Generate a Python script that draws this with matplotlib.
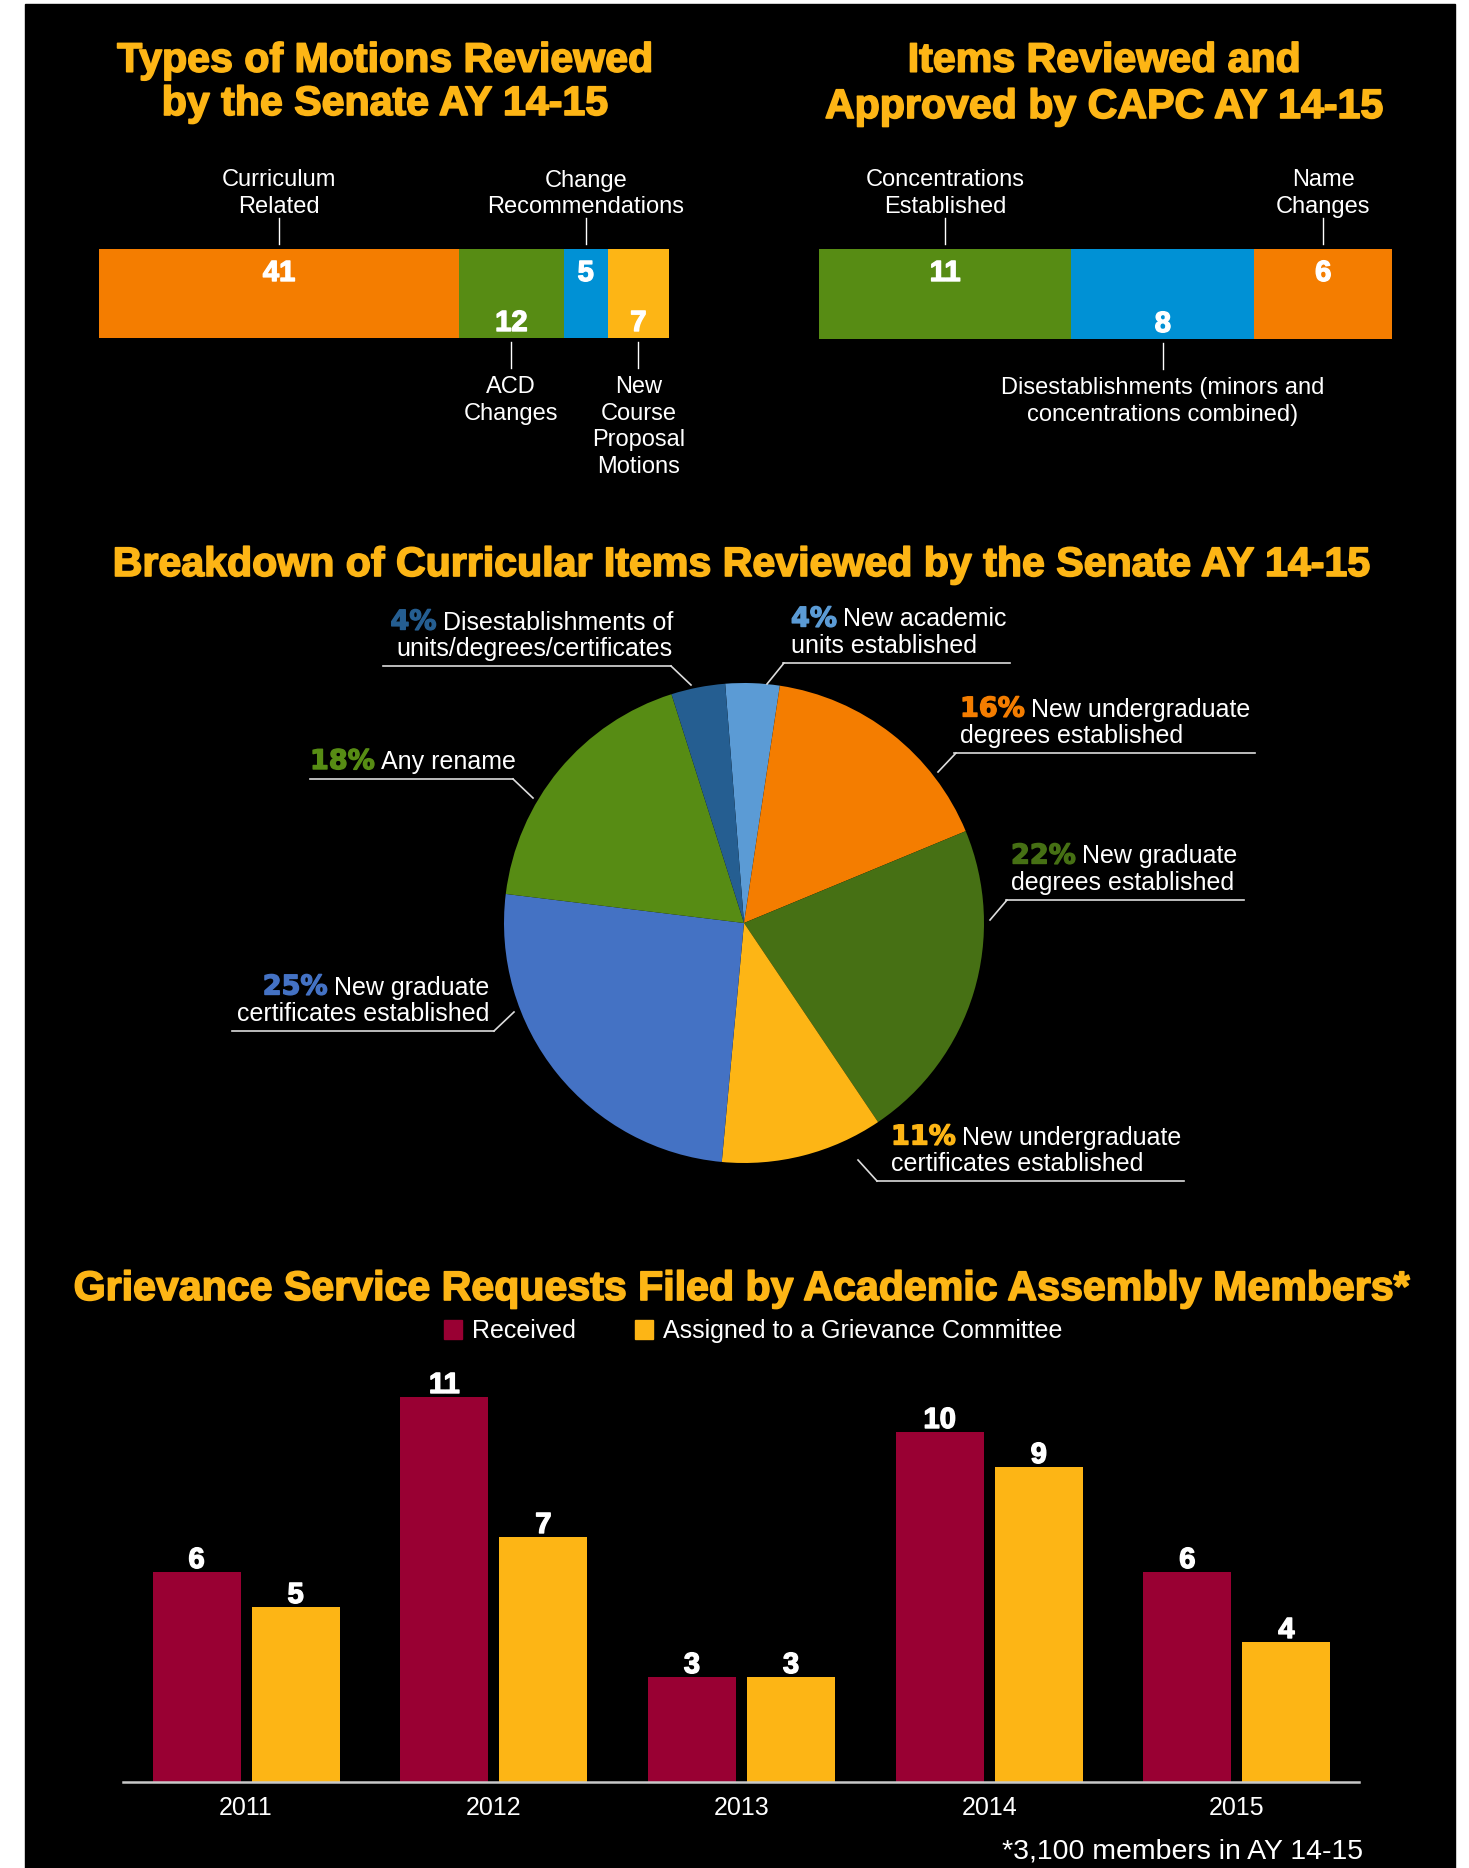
import numpy as np
import matplotlib
matplotlib.use('Agg')
import matplotlib.pyplot as plt
import matplotlib.transforms as mtransforms
import matplotlib.patheffects as pe
from matplotlib.lines import Line2D
from matplotlib.patches import Rectangle, Patch

plt.rcParams['font.family'] = ['Liberation Sans', 'DejaVu Sans']

# --- data ---
motion_vals = [41, 12, 5, 7]
motion_names = ['Curriculum\nRelated', 'ACD\nChanges', 'Change\nRecommendations',
                'New\nCourse\nProposal\nMotions']
motion_sides = ['top', 'bottom', 'top', 'bottom']
motion_colors = ['#F47D00', '#578C14', '#0091D5', '#FDB515']

capc_vals = [11, 8, 6]
capc_names = ['Concentrations\nEstablished',
              'Disestablishments (minors and\nconcentrations combined)',
              'Name\nChanges']
capc_sides = ['top', 'bottom', 'top']
capc_colors = ['#578C14', '#0091D5', '#F47D00']

pie_counts = [2, 9, 12, 6, 14, 10, 2]
pie_pcts = ['4%', '16%', '22%', '11%', '25%', '18%', '4%']
pie_names = ['New academic\nunits established',
             'New undergraduate\ndegrees established',
             'New graduate\ndegrees established',
             'New undergraduate\ncertificates established',
             'New graduate\ncertificates established',
             'Any rename',
             'Disestablishments of\nunits/degrees/certificates']
pie_colors = ['#5B9BD5', '#F47D00', '#467014', '#FDB515', '#4472C4', '#578C14', '#255E91']

years = ['2011', '2012', '2013', '2014', '2015']
received = [6, 11, 3, 10, 6]
assigned = [5, 7, 3, 9, 4]

GOLD = '#FDB515'
MAROON = '#990033'

W, H = 1469, 1868
fig = plt.figure(figsize=(W / 100, H / 100), dpi=100)
fig.patch.set_facecolor('white')
fig.add_artist(Rectangle((25 / W, 0), 1430 / W, 1864 / H, transform=fig.transFigure,
                         color='black', zorder=0))

# pixel coords, origin top-left
px = mtransforms.Affine2D().scale(1, -1).translate(0, H)

heavy_w = [pe.withStroke(linewidth=1.0, foreground='white')]
heavy_g = [pe.withStroke(linewidth=1.2, foreground=GOLD)]


def px_axes(l, t, r, b):
    return fig.add_axes([l / W, 1 - b / H, (r - l) / W, (b - t) / H])


def title(x, y, s):
    fig.text(x, y, s, transform=px, ha='center', va='baseline', color=GOLD,
             fontsize=29.6, fontweight='bold', path_effects=heavy_g)


title(385, 71.7, 'Types of Motions Reviewed')
title(385, 115, 'by the Senate AY 14-15')
title(1104, 71.7, 'Items Reviewed and')
title(1104, 118, 'Approved by CAPC AY 14-15')
title(741, 576, 'Breakdown of Curricular Items Reviewed by the Senate AY 14-15')
title(741, 1300, 'Grievance Service Requests Filed by Academic Assembly Members*')


def stacked(l, t, r, b, vals, names, sides, colors):
    ax = px_axes(l, t, r, b)
    h = b - t
    lefts = np.concatenate([[0], np.cumsum(vals)[:-1]])
    ax.barh(0, vals, left=lefts, height=1, color=colors, linewidth=0)
    ax.set_xlim(0, sum(vals))
    ax.set_ylim(-0.5, 0.5)
    ax.axis('off')
    tr = ax.get_xaxis_transform()
    for v, lf, name, side in zip(vals, lefts, names, sides):
        xc = lf + v / 2
        lines = name.split('\n')
        n = len(lines)
        if side == 'top':
            ax.annotate(str(v), (xc, 1), xycoords=tr, xytext=(0, -32), textcoords='offset pixels',
                        ha='center', va='baseline', color='white', fontsize=21,
                        fontweight='bold', path_effects=heavy_w)
            ax.plot([xc, xc], [1 + 5 / h, 1 + 31 / h], transform=tr, clip_on=False,
                    color='white', lw=1)
            for i, s in enumerate(lines):
                ax.annotate(s, (xc, 1), xycoords=tr, xytext=(0, 36 + (n - 1 - i) * 26.5),
                            textcoords='offset pixels', ha='center', va='baseline',
                            color='white', fontsize=17)
        else:
            ax.annotate(str(v), (xc, 0), xycoords=tr, xytext=(0, 7), textcoords='offset pixels',
                        ha='center', va='baseline', color='white', fontsize=21,
                        fontweight='bold', path_effects=heavy_w)
            ax.plot([xc, xc], [-4 / h, -30 / h], transform=tr, clip_on=False,
                    color='white', lw=1)
            for i, s in enumerate(lines):
                ax.annotate(s, (xc, 0), xycoords=tr, xytext=(0, -(55 + i * 26.6)),
                            textcoords='offset pixels', ha='center', va='baseline',
                            color='white', fontsize=17)


stacked(99.4, 249, 669, 338, motion_vals, motion_names, motion_sides, motion_colors)
stacked(819, 249, 1392, 339, capc_vals, capc_names, capc_sides, capc_colors)

# --- pie ---
cx, cy, rad = 744, 923, 240
axp = px_axes(cx - rad, cy - rad, cx + rad, cy + rad)
axp.pie(pie_counts, colors=pie_colors, startangle=94.5, counterclock=False,
        wedgeprops=dict(linewidth=0))
axp.set_xlim(-1, 1)
axp.set_ylim(-1, 1)
axp.axis('off')

# label layout: align, text x, underline y, underline x0, x1, leader start, leader tip
pie_layout = [
    ('left', 791, 663, 783, 1010, (784, 663), (767, 684)),
    ('left', 960, 753, 954, 1255, (956, 753), (938, 772)),
    ('left', 1011, 900, 1006, 1244, (1007, 900), (990, 920)),
    ('left', 891, 1181, 877, 1184, (877, 1181), (858, 1160)),
    ('right', 489, 1031, 232, 494, (494, 1031), (514, 1012)),
    ('left', 310, 779, 310, 513, (513, 779), (533, 798)),
    ('right', 673, 666, 383, 671, (671, 666), (691, 685)),
]

renderer = fig.canvas.get_renderer()
for pct, name, col, lay in zip(pie_pcts, pie_names, pie_colors, pie_layout):
    align, tx, uy, ux0, ux1, p0, p1 = lay
    lines = name.split('\n')
    n = len(lines)
    base0 = uy - 10 - (n - 1) * 26.5
    pct_eff = [pe.withStroke(linewidth=1.0, foreground=col)]
    for i, s in enumerate(lines):
        yb = base0 + i * 26.5
        if i == 0:
            if align == 'left':
                tp = fig.text(tx, yb, pct, transform=px, ha='left', va='baseline', color=col,
                              fontsize=19.5, fontweight='bold', family='DejaVu Sans',
                              path_effects=pct_eff)
                bb = tp.get_window_extent(renderer)
                fig.text(bb.x1 + 6, yb, s, transform=px, ha='left', va='baseline',
                         color='white', fontsize=18)
            else:
                tr_ = fig.text(tx, yb, s, transform=px, ha='right', va='baseline',
                               color='white', fontsize=18)
                bb = tr_.get_window_extent(renderer)
                fig.text(bb.x0 - 6, yb, pct, transform=px, ha='right', va='baseline', color=col,
                         fontsize=19.5, fontweight='bold', family='DejaVu Sans',
                         path_effects=pct_eff)
        else:
            fig.text(tx, yb, s, transform=px, ha=align, va='baseline', color='white', fontsize=18)
    fig.add_artist(Line2D([ux0, ux1], [uy, uy], transform=px, color='#DDDDDD', lw=1.2))
    fig.add_artist(Line2D([p0[0], p1[0]], [p0[1], p1[1]], transform=px, color='#DDDDDD', lw=1.2))

# --- grouped bars ---
ax = px_axes(123, 1362, 1359, 1782)
x = np.arange(len(years))
bw = 0.355
ax.bar(x - 0.2, received, bw, color=MAROON, linewidth=0)
ax.bar(x + 0.2, assigned, bw, color=GOLD, linewidth=0)
for xi, v in zip(x - 0.2, received):
    ax.annotate(str(v), (xi, v), xytext=(0, 4), textcoords='offset pixels', ha='center',
                va='baseline', color='white', fontsize=21, fontweight='bold',
                path_effects=heavy_w)
for xi, v in zip(x + 0.2, assigned):
    ax.annotate(str(v), (xi, v), xytext=(0, 4), textcoords='offset pixels', ha='center',
                va='baseline', color='white', fontsize=21, fontweight='bold',
                path_effects=heavy_w)
ax.set_xlim(-0.497, 4.493)
ax.set_ylim(0, 12)
ax.set_facecolor('none')
for sp in ['top', 'left', 'right']:
    ax.spines[sp].set_visible(False)
ax.spines['bottom'].set_color('#C8C8C8')
ax.spines['bottom'].set_linewidth(1.8)
ax.set_xticks(x, years)
ax.set_yticks([])
ax.tick_params(axis='x', length=0, pad=10, labelsize=18, labelcolor='white')

fig.legend(handles=[Patch(color=MAROON), Patch(color=GOLD)],
           labels=['Received', 'Assigned to a Grievance Committee'],
           loc='center', bbox_to_anchor=(753 / W, 1 - 1331 / H), ncol=2, frameon=False,
           fontsize=18, handlelength=0.72, handleheight=0.76, handletextpad=0.4,
           columnspacing=2.35, labelcolor='white')

fig.text(1363, 1858, '*3,100 members in AY 14-15', transform=px, ha='right', va='baseline',
         color='white', fontsize=20.5)

fig.savefig('out.png', dpi=100, facecolor=fig.get_facecolor())
